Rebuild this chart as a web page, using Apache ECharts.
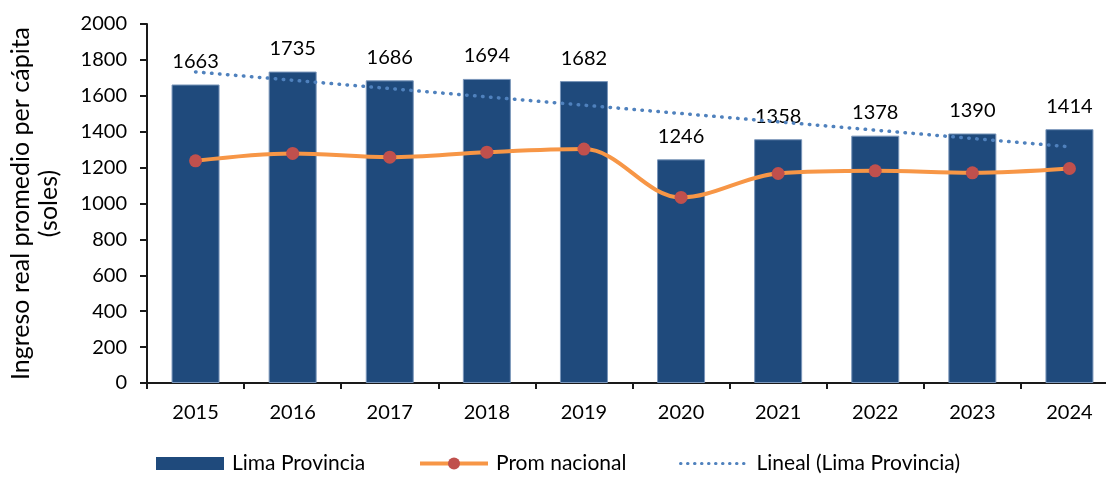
<!DOCTYPE html>
<html>
<head>
<meta charset="utf-8">
<script src="https://cdn.jsdelivr.net/npm/echarts@6/dist/echarts.min.js"></script>
<style>
  html, body { margin: 0; padding: 0; background: #fff; }
  #chart { width: 1106px; height: 477px; }
</style>
</head>
<body>
<div id="chart"></div>
<script>
const years = ["2015", "2016", "2017", "2018", "2019", "2020", "2021", "2022", "2023", "2024"];
const limaProvincia = [1663, 1735, 1686, 1694, 1682, 1246, 1358, 1378, 1390, 1414];
const promNacional = [1238, 1279, 1258, 1286, 1303, 1034, 1167, 1182, 1171, 1195];
// trend line ends
const linealYears = ["2015", "2024"];
const linealValues = [1733, 1316];
const yTicks = { min: 0, max: 2000, interval: 200 };

const font = "Lato";
const chart = echarts.init(document.getElementById("chart"));

const legendBase = {
  top: 448,
  itemWidth: 68,
  itemHeight: 13,
  textStyle: { fontFamily: font, fontSize: 21, color: "#000", padding: [0, 0, 0, 3] },
  selectedMode: false
};

const option = {
  animation: false,
  backgroundColor: "#fff",
  grid: { left: 147, top: 24, width: 971, height: 359, outerBoundsMode: "none", containLabel: false },
  legend: [
    Object.assign({}, legendBase, {
      left: 151,
      data: [{ name: "Lima Provincia", icon: "rect", itemStyle: { borderWidth: 0 } }]
    }),
    Object.assign({}, legendBase, {
      left: 413,
      itemHeight: 15,
      data: [{ name: "Prom nacional", lineStyle: { width: 4 } }]
    }),
    Object.assign({}, legendBase, {
      left: 674,
      data: [{
        name: "Lineal (Lima Provincia)",
        itemStyle: { opacity: 0 },
        lineStyle: { width: 3, type: [0.5, 6.5], cap: "round" }
      }]
    })
  ],
  xAxis: {
    type: "category",
    data: years,
    axisLine: { lineStyle: { color: "#1a1a1a", width: 2 } },
    axisTick: { show: true, length: 6, lineStyle: { color: "#1a1a1a", width: 2 } },
    axisLabel: { fontFamily: font, fontSize: 20, color: "#000", margin: 20 }
  },
  yAxis: {
    type: "value",
    min: yTicks.min,
    max: yTicks.max,
    interval: yTicks.interval,
    name: "Ingreso real promedio per cápita\n(soles)",
    nameLocation: "middle",
    nameRotate: 90,
    nameGap: 84,
    nameTextStyle: { fontFamily: font, fontSize: 25, color: "#000", lineHeight: 28 },
    splitLine: { show: false },
    axisLine: { show: true, lineStyle: { color: "#1a1a1a", width: 2 } },
    axisTick: { show: true, length: 7, lineStyle: { color: "#1a1a1a", width: 2 } },
    axisLabel: {
      fontFamily: font, fontSize: 20, color: "#000", margin: 20,
      formatter: (v) => String(v)
    }
  },
  series: [
    {
      name: "Lima Provincia",
      type: "bar",
      data: limaProvincia,
      barWidth: 48,
      itemStyle: { color: "#1F4A7C", borderColor: "#7A96BA", borderWidth: 1 },
      label: {
        show: true,
        position: "top",
        distance: 13,
        fontFamily: font,
        fontSize: 20,
        color: "#000"
      },
      z: 1
    },
    {
      name: "Lineal (Lima Provincia)",
      type: "line",
      data: linealYears.map((y, i) => [y, linealValues[i]]),
      symbol: "none",
      lineStyle: { color: "#4F81BD", width: 3.5, type: [0.5, 7.5], cap: "round" },
      itemStyle: { color: "#4F81BD" },
      z: 3
    },
    {
      name: "Prom nacional",
      type: "line",
      data: promNacional,
      smooth: 0.35,
      symbol: "circle",
      symbolSize: 13,
      lineStyle: { color: "#F79646", width: 4 },
      itemStyle: { color: "#C0504D" },
      z: 4
    }
  ]
};

chart.setOption(option);
</script>
</body>
</html>
